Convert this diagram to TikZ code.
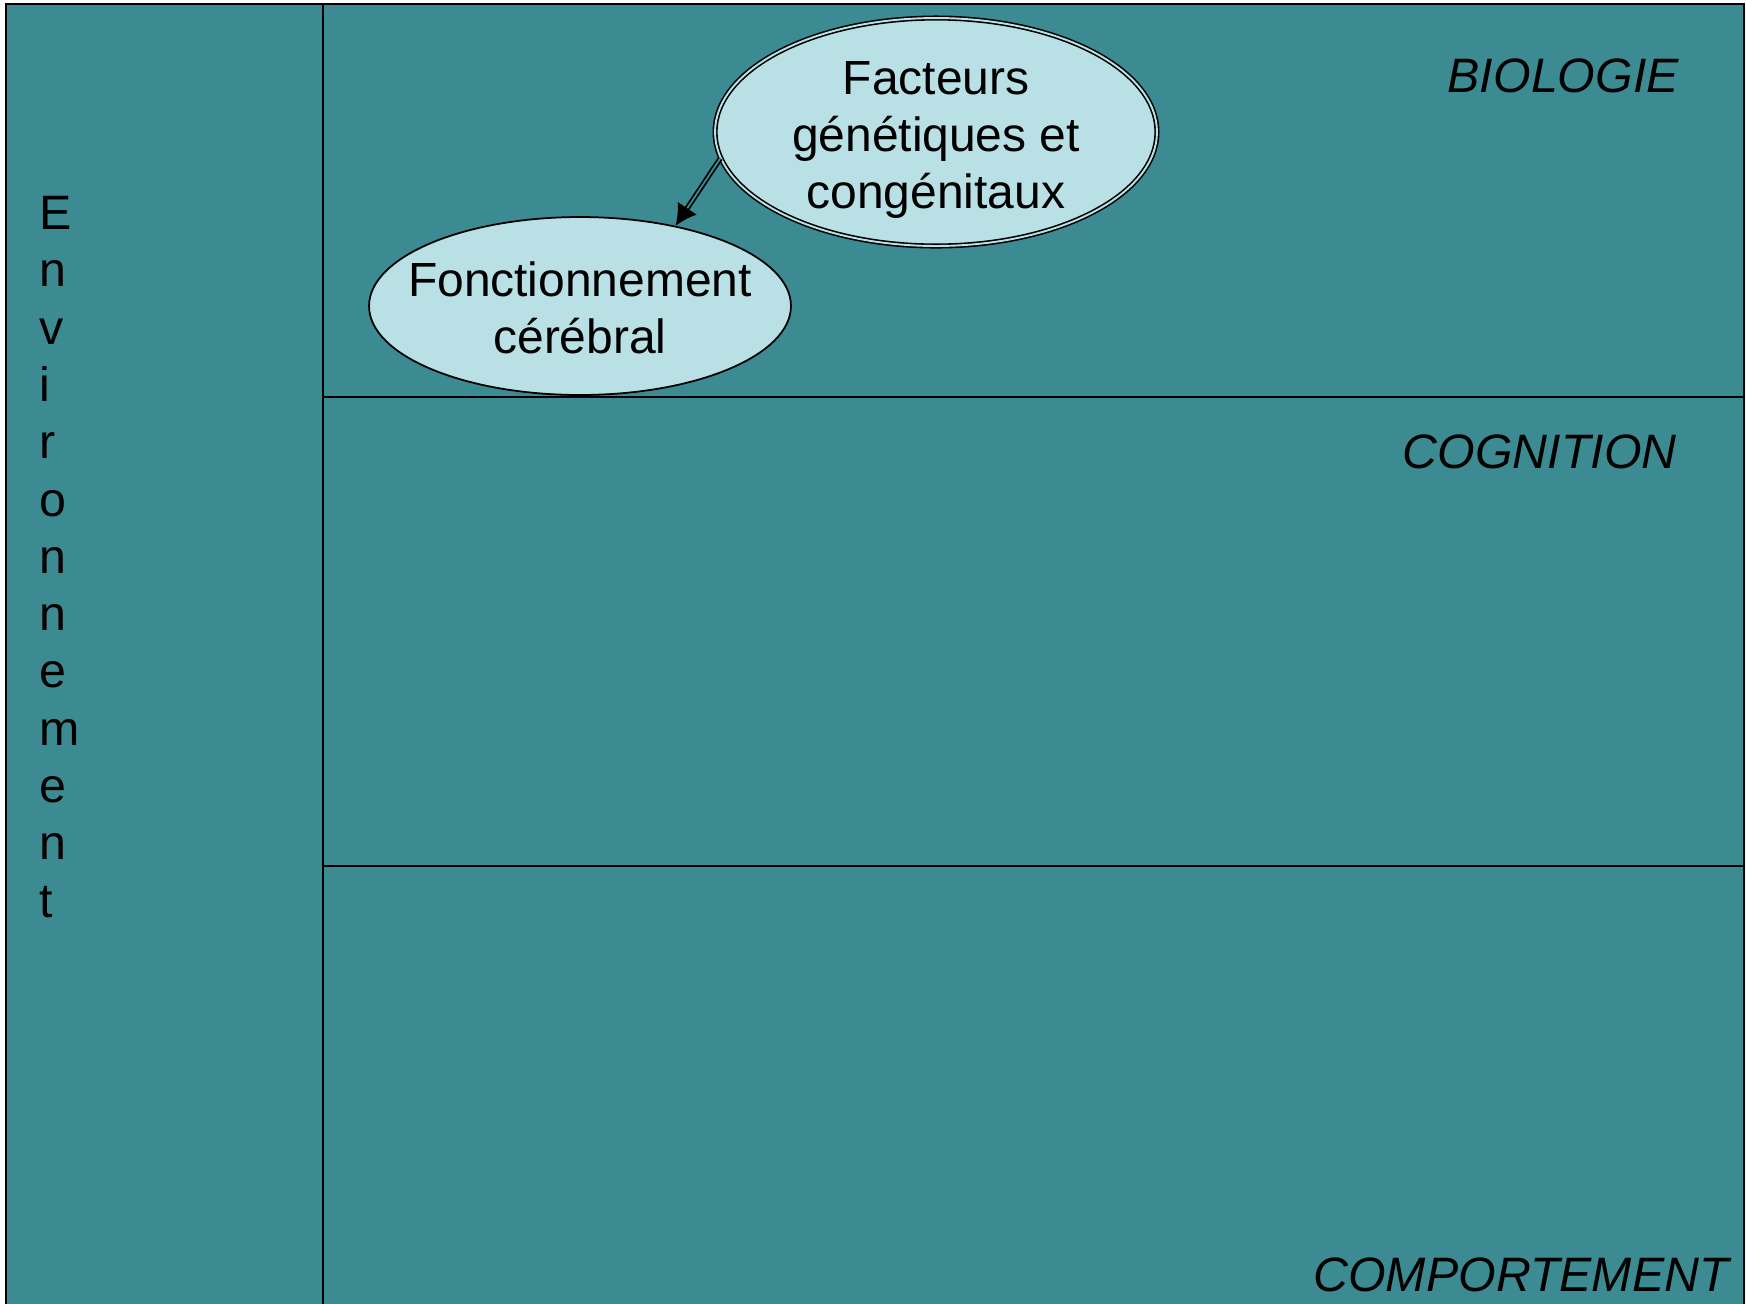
\documentclass[tikz,border=0pt]{standalone}
\usepackage{fontspec}
\setmainfont{Liberation Sans}
\usepackage{tikz}
\usetikzlibrary{shapes,arrows.meta,positioning}

\definecolor{fondbleu}{RGB}{61,139,146}
\definecolor{bulleclair}{RGB}{185,224,228}

\begin{document}
\begin{tikzpicture}[x=0.02cm, y=-0.02cm,
    zone/.style={line width=1.2pt},
    bulle/.style={ellipse, draw, line width=1pt, fill=bulleclair, inner xsep=-2cm, inner ysep=-1cm,
        align=center, font=\fontsize{27.3}{32.6}\selectfont},
    titre/.style={anchor=base east, inner sep=0pt, font=\fontsize{27.5}{33}\selectfont\itshape}]
    \fill[white] (0,0) rectangle (1746,1303);
    \useasboundingbox (0,0) rectangle (1746,1303);
    \clip (0,0) rectangle (1746,1303);

    % cadre et zones
    \fill[fondbleu] (6,4) rectangle (1744,1330);
    \draw[zone] (6,4) rectangle (1744,1330);
    \draw[zone] (323,4) -- (323,1330);
    \draw[zone] (323,397) -- (1744,397);
    \draw[zone] (323,866) -- (1744,866);

    \node[anchor=base west, inner sep=0pt, align=left, font=\fontsize{27.5}{32.6}\selectfont]
        (env) at (39,917) {E\\n\\v\\i\\r\\o\\n\\n\\e\\m\\e\\n\\t};

    \node[titre] (bio) at (1679,92) {BIOLOGIE};
    \node[titre] (cog) at (1677,468) {COGNITION};
    \node[titre] (comp) at (1729,1291) {COMPORTEMENT};

    \node[bulle, double=bulleclair, double distance=1.1pt, line width=0.9pt,
        minimum width=8.84cm, minimum height=4.56cm] (fac) at (936,132)
        {\rule{0pt}{0.98cm}Facteurs\\génétiques et\\congénitaux};
    \node[bulle, minimum width=8.44cm, minimum height=3.56cm] (fonc) at (580,306)
        {\rule{0pt}{0.78cm}Fonctionnement\\cérébral};

    \draw[line width=1pt, double=fondbleu, double distance=1pt,
        -{Latex[length=0.42cm,width=0.46cm]}] (fac.187) -- (fonc.40);
\end{tikzpicture}
\end{document}
